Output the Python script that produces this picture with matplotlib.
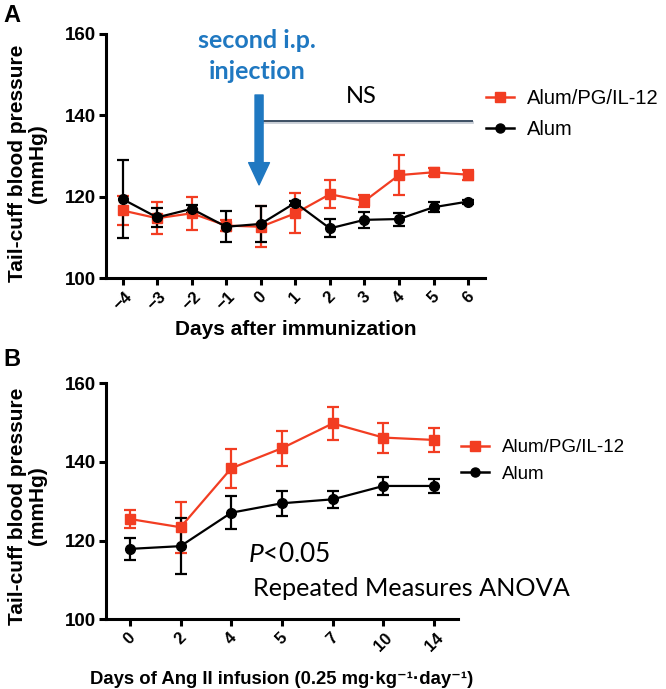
import matplotlib
matplotlib.use("Agg")
import matplotlib.pyplot as plt
from matplotlib.lines import Line2D
import numpy as np

# ---------------- data ----------------
days_a = [-4, -3, -2, -1, 0, 1, 2, 3, 4, 5, 6]
il12_a = [116.6, 114.7, 115.9, 112.9, 112.6, 115.9, 120.6, 118.9, 125.3, 126.0, 125.4]
il12_a_err = [3.6, 4.0, 4.0, 1.4, 5.0, 4.9, 3.5, 1.5, 4.9, 1.0, 1.2]
alum_a = [119.4, 114.9, 117.0, 112.6, 113.3, 118.5, 112.2, 114.3, 114.5, 117.4, 118.8]
alum_a_err = [9.6, 2.3, 0.9, 3.8, 4.5, 0.5, 2.2, 2.0, 1.6, 1.2, 0.5]

days_b = ["0", "2", "4", "5", "7", "10", "14"]
il12_b = [125.5, 123.4, 138.4, 143.5, 149.8, 146.2, 145.6]
il12_b_err = [2.4, 6.5, 4.9, 4.5, 4.3, 3.8, 3.0]
alum_b = [117.9, 118.6, 127.1, 129.5, 130.5, 133.9, 133.9]
alum_b_err = [2.7, 7.2, 4.2, 3.2, 2.2, 2.2, 1.8]

labels = ["Alum/PG/IL-12", "Alum"]
ns_level = 138.7
yticks = [100, 120, 140, 160]

RED = "#f23d22"
BLACK = "#000000"
BLUE = "#1f78c1"

plt.rcParams["font.family"] = ["Liberation Sans", "DejaVu Sans"]
plt.rcParams["mathtext.fontset"] = "custom"
plt.rcParams["mathtext.it"] = "Lato:italic"
plt.rcParams["mathtext.rm"] = "Lato"

fig = plt.figure(figsize=(6.66, 6.89), dpi=100)
W, H = 666, 689


def px_axes(l, t, r, b):
    return fig.add_axes([l / W, 1 - b / H, (r - l) / W, (b - t) / H])


def style(ax):
    for s in ["top", "right"]:
        ax.spines[s].set_visible(False)
    for s in ["left", "bottom"]:
        ax.spines[s].set_linewidth(2.2)
    ax.tick_params(width=2.2, length=5, direction="out")
    ax.tick_params(axis="y", labelsize=13.5, pad=2)
    ax.tick_params(axis="x", labelsize=12, pad=3)
    for lab in ax.get_yticklabels():
        lab.set_fontweight("bold")
    for lab in ax.get_xticklabels():
        lab.set_fontweight("bold")
        lab.set_rotation(45)
        lab.set_ha("center")
        lab.set_va("top")
    ax.set_ylim(100, 160)
    ax.set_yticks(yticks)


def series(ax, x, y, e, color, marker, ms, label):
    ax.errorbar(x, y, yerr=e, color=color, marker=marker, markersize=ms,
                linewidth=1.6, elinewidth=1.6, capsize=4.5, capthick=1.6,
                label=label, clip_on=False, zorder=3)


def legend_handles():
    return [Line2D([], [], color=RED, marker="s", markersize=7, linewidth=1.8),
            Line2D([], [], color=BLACK, marker="o", markersize=6.5, linewidth=1.8)]


# ---------------- Panel A ----------------
axA = px_axes(106, 34, 485, 278)
series(axA, days_a, il12_a, il12_a_err, RED, "s", 7.5, labels[0])
series(axA, days_a, alum_a, alum_a_err, BLACK, "o", 7, labels[1])
axA.set_xlim(-4.48, 6.49)
axA.set_xticks(days_a)
style(axA)
axA.set_xlabel("Days after immunization", fontsize=15, fontweight="bold", labelpad=5)
axA.set_ylabel("Tail-cuff blood pressure\n(mmHg)", fontsize=15, fontweight="bold",
               linespacing=1.05)
axA.yaxis.set_label_coords(-0.156, 0.47)

# NS line and text
axA.plot([0.05, 6.1], [ns_level - 0.35, ns_level - 0.35], color="#c9ced6", lw=2.0,
         clip_on=False, zorder=1)
axA.plot([0.05, 6.1], [ns_level, ns_level], color="#3d4f63", lw=1.4,
         clip_on=False, zorder=2)
axA.text(2.9, 144.6, "NS", fontsize=17, family=["Lato", "DejaVu Sans"],
         ha="center", va="center")

# injection arrow
axA.annotate("", xy=(-0.05, 122.9), xytext=(-0.05, 145.0),
             arrowprops=dict(arrowstyle="simple,head_length=1.6,head_width=1.5,tail_width=0.58",
                             mutation_scale=10, color=BLUE, shrinkA=0, shrinkB=0),
             annotation_clip=False)
axA.text(-0.1, 154.6, "second i.p.\ninjection", fontsize=18, fontweight="bold",
         family=["Lato", "DejaVu Sans"], color=BLUE, ha="center", va="center",
         linespacing=1.4, clip_on=False)

axA.legend(legend_handles(), labels, loc="upper left", bbox_to_anchor=(486 / W, 1 - 89 / H),
           bbox_transform=fig.transFigure, frameon=False, fontsize=14.5,
           handlelength=1.4, handletextpad=0.65, labelspacing=0.6,
           borderpad=0, borderaxespad=0)

# ---------------- Panel B ----------------
axB = px_axes(106, 383.3, 458, 619.3)
xb = np.arange(len(days_b))
series(axB, xb, il12_b, il12_b_err, RED, "s", 7.5, labels[0])
series(axB, xb, alum_b, alum_b_err, BLACK, "o", 7, labels[1])
axB.set_xlim(-0.47, len(days_b) - 1 + 0.47)
axB.set_xticks(xb)
axB.set_xticklabels(days_b)
style(axB)
axB.set_xlabel("Days of Ang II infusion (0.25 mg·kg⁻¹·day⁻¹)", fontsize=13.3,
               fontweight="bold", labelpad=12)
axB.set_ylabel("Tail-cuff blood pressure\n(mmHg)", fontsize=15, fontweight="bold",
               linespacing=1.05)
axB.yaxis.set_label_coords(-0.168, 0.48)

axB.text(2.33, 114.6, r"$P$<0.05", fontsize=19, family=["Lato", "DejaVu Sans"],
         ha="left", va="baseline")
axB.text(2.43, 105.9, "Repeated Measures ANOVA", fontsize=18.2,
         family=["Lato", "DejaVu Sans"], ha="left", va="baseline")

axB.legend(legend_handles(), labels, loc="upper left", bbox_to_anchor=(461 / W, 1 - 439 / H),
           bbox_transform=fig.transFigure, frameon=False, fontsize=13.5,
           handlelength=1.5, handletextpad=0.7, labelspacing=0.5,
           borderpad=0, borderaxespad=0)

# panel letters
fig.text(12 / W, 1 - 15 / H, "A", fontsize=17, fontweight="bold", ha="center", va="center")
fig.text(12 / W, 1 - 360 / H, "B", fontsize=17, fontweight="bold", ha="center", va="center")

fig.savefig("out.png", dpi=100)
